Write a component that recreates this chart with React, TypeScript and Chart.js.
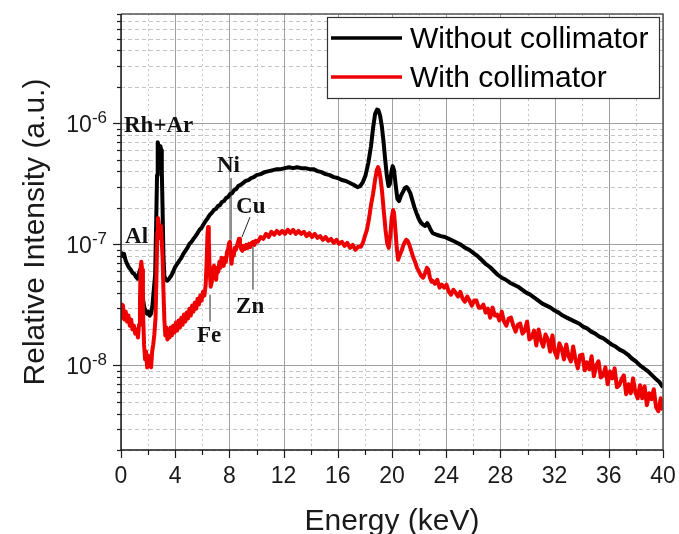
import React, { useEffect, useRef } from "react";
import { Chart, registerables } from "chart.js";

Chart.register(...registerables);

const SANS = "'Liberation Sans', Arial, Helvetica, sans-serif";
const SERIF = "'Liberation Serif', 'Times New Roman', serif";

const seriesNames = ["Without collimator", "With collimator"];
const seriesColors = ["#000000", "#ee0000"];
const xAxisTitle = "Energy (keV)";
const yAxisTitle = "Relative Intensity (a.u.)";

const blackEnergy = [
  0.0, 0.1, 0.22, 0.35, 0.48, 0.6, 0.72, 0.85, 0.97, 1.1,
  1.22, 1.32, 1.4, 1.47, 1.55, 1.63, 1.72, 1.82, 1.92, 2.02,
  2.12, 2.22, 2.32, 2.42, 2.52, 2.6, 2.66, 2.71, 2.76, 2.81,
  2.86, 2.91, 2.96, 3.01, 3.07, 3.13, 3.2, 3.3, 3.42, 3.55,
  3.7, 3.85, 4.0, 4.15, 4.3, 4.45, 4.6, 4.75, 4.9, 5.05,
  5.2, 5.35, 5.5, 5.65, 5.8, 5.95, 6.1, 6.25, 6.4, 6.55,
  6.7, 6.85, 7.0, 7.15, 7.3, 7.45, 7.6, 7.75, 7.9, 8.05,
  8.2, 8.35, 8.5, 8.65, 8.8, 9.0, 9.2, 9.4, 9.6, 9.8,
  10.0, 10.3, 10.6, 10.9, 11.2, 11.5, 11.8, 12.1, 12.4, 12.7,
  13.0, 13.3, 13.6, 13.9, 14.2, 14.5, 14.8, 15.1, 15.4, 15.7,
  16.0, 16.3, 16.6, 16.9, 17.2, 17.45, 17.65, 17.85, 18.05, 18.25,
  18.45, 18.6, 18.75, 18.9, 19.0, 19.12, 19.25, 19.38, 19.5, 19.62,
  19.74, 19.84, 19.95, 20.05, 20.15, 20.28, 20.4, 20.52, 20.65, 20.8,
  20.95, 21.08, 21.2, 21.35, 21.5, 21.65, 21.8, 21.95, 22.1, 22.3,
  22.45, 22.6, 22.72, 22.85, 23.0, 23.3, 23.6, 23.9, 24.2, 24.5,
  24.8, 25.1, 25.4, 25.7, 26.0, 26.3, 26.6, 26.9, 27.2, 27.5,
  27.8, 28.1, 28.4, 28.7, 29.0, 29.3, 29.6, 29.9, 30.2, 30.5,
  30.8, 31.1, 31.4, 31.7, 32.0, 32.3, 32.6, 32.9, 33.2, 33.5,
  33.8, 34.1, 34.4, 34.7, 35.0, 35.3, 35.6, 35.9, 36.2, 36.5,
  36.8, 37.1, 37.4, 37.7, 38.0, 38.3, 38.6, 38.9, 39.2, 39.5,
  39.75, 40.0,
];

const blackIntensity = [
  8.68e-8, 8.04e-8, 8.35e-8, 7.32e-8, 6.78e-8, 6.4e-8, 6.17e-8, 5.83e-8, 5.72e-8, 5.4e-8,
  5.2e-8, 5.72e-8, 6.17e-8, 5.5e-8, 4.22e-8, 3.49e-8, 3.0e-8, 2.84e-8, 2.68e-8, 2.78e-8,
  2.58e-8, 2.68e-8, 3.12e-8, 4.22e-8, 5.61e-8, 1.59e-7, 3.73e-7, 6.98e-7, 6.59e-7, 5.77e-7,
  5.45e-7, 6.47e-7, 6.0e-7, 4.1e-7, 1.92e-7, 8.19e-8, 5.5e-8, 5.1e-8, 5.0e-8, 5.2e-8,
  5.5e-8, 5.94e-8, 6.53e-8, 6.91e-8, 7.32e-8, 7.74e-8, 8.35e-8, 8.85e-8, 9.36e-8, 1.01e-7,
  1.05e-7, 1.11e-7, 1.17e-7, 1.24e-7, 1.32e-7, 1.37e-7, 1.47e-7, 1.56e-7, 1.65e-7, 1.75e-7,
  1.82e-7, 1.92e-7, 1.96e-7, 2.07e-7, 2.11e-7, 2.24e-7, 2.28e-7, 2.41e-7, 2.46e-7, 2.6e-7,
  2.65e-7, 2.81e-7, 2.86e-7, 3.03e-7, 3.09e-7, 3.21e-7, 3.34e-7, 3.4e-7, 3.53e-7, 3.59e-7,
  3.73e-7, 3.8e-7, 3.95e-7, 4.03e-7, 4.1e-7, 4.18e-7, 4.18e-7, 4.26e-7, 4.34e-7, 4.26e-7,
  4.34e-7, 4.26e-7, 4.26e-7, 4.18e-7, 4.18e-7, 4.03e-7, 3.95e-7, 3.8e-7, 3.73e-7, 3.59e-7,
  3.53e-7, 3.4e-7, 3.34e-7, 3.21e-7, 3.09e-7, 2.97e-7, 3.03e-7, 3.27e-7, 3.73e-7, 4.69e-7,
  6.47e-7, 9.1e-7, 1.19e-6, 1.3e-6, 1.28e-6, 1.16e-6, 9.45e-7, 6.98e-7, 4.96e-7, 3.66e-7,
  3.03e-7, 3.15e-7, 3.95e-7, 4.43e-7, 4.1e-7, 3.03e-7, 2.37e-7, 2.28e-7, 2.51e-7, 2.7e-7,
  2.92e-7, 2.97e-7, 2.86e-7, 2.65e-7, 2.32e-7, 2.03e-7, 1.82e-7, 1.65e-7, 1.53e-7, 1.45e-7,
  1.42e-7, 1.5e-7, 1.42e-7, 1.32e-7, 1.24e-7, 1.2e-7, 1.17e-7, 1.15e-7, 1.11e-7, 1.07e-7,
  1.03e-7, 9.9e-8, 9.36e-8, 9.01e-8, 8.51e-8, 8.04e-8, 7.46e-8, 6.91e-8, 6.53e-8, 6.05e-8,
  5.61e-8, 5.3e-8, 5.1e-8, 4.82e-8, 4.64e-8, 4.47e-8, 4.22e-8, 3.99e-8, 3.84e-8, 3.63e-8,
  3.43e-8, 3.24e-8, 3.12e-8, 3.0e-8, 2.84e-8, 2.73e-8, 2.58e-8, 2.48e-8, 2.39e-8, 2.3e-8,
  2.22e-8, 2.09e-8, 2.02e-8, 1.9e-8, 1.83e-8, 1.73e-8, 1.67e-8, 1.58e-8, 1.49e-8, 1.43e-8,
  1.35e-8, 1.3e-8, 1.23e-8, 1.14e-8, 1.08e-8, 1.0e-8, 9.45e-9, 8.93e-9, 8.27e-9, 7.67e-9,
  7.25e-9, 6.59e-9,
];

const redEnergy = [
  0.0, 0.07, 0.15, 0.25, 0.35, 0.45, 0.55, 0.65, 0.75, 0.85,
  0.95, 1.05, 1.15, 1.25, 1.33, 1.4, 1.45, 1.5, 1.56, 1.62,
  1.7, 1.78, 1.85, 1.93, 2.0, 2.08, 2.15, 2.22, 2.3, 2.38,
  2.46, 2.55, 2.62, 2.68, 2.73, 2.78, 2.84, 2.89, 2.95, 3.01,
  3.07, 3.13, 3.2, 3.27, 3.35, 3.42, 3.5, 3.58, 3.66, 3.75,
  3.85, 3.95, 4.05, 4.15, 4.25, 4.35, 4.45, 4.55, 4.65, 4.75,
  4.85, 4.95, 5.05, 5.15, 5.25, 5.35, 5.45, 5.55, 5.65, 5.75,
  5.85, 5.95, 6.05, 6.15, 6.25, 6.32, 6.38, 6.43, 6.48, 6.54,
  6.62, 6.7, 6.78, 6.86, 6.94, 7.02, 7.1, 7.18, 7.26, 7.34,
  7.42, 7.5, 7.58, 7.66, 7.74, 7.82, 7.9, 7.98, 8.04, 8.1,
  8.16, 8.24, 8.32, 8.4, 8.48, 8.56, 8.64, 8.71, 8.78, 8.86,
  8.95, 9.05, 9.15, 9.25, 9.35, 9.45, 9.55, 9.65, 9.75, 9.85,
  9.95, 10.1, 10.3, 10.5, 10.7, 10.9, 11.1, 11.3, 11.5, 11.7,
  11.9, 12.1, 12.3, 12.5, 12.7, 12.9, 13.1, 13.3, 13.5, 13.7,
  13.9, 14.1, 14.3, 14.5, 14.7, 14.9, 15.1, 15.3, 15.5, 15.7,
  15.9, 16.1, 16.3, 16.5, 16.7, 16.9, 17.1, 17.3, 17.5, 17.7,
  17.85, 18.0, 18.15, 18.3, 18.45, 18.6, 18.75, 18.88, 18.97, 19.05,
  19.15, 19.27, 19.4, 19.52, 19.64, 19.76, 19.88, 19.98, 20.08, 20.15,
  20.25, 20.35, 20.45, 20.55, 20.68, 20.8, 20.92, 21.05, 21.15, 21.28,
  21.4, 21.55, 21.7, 21.85, 22.0, 22.15, 22.3, 22.45, 22.58, 22.68,
  22.8, 22.92,
  23.0, 23.17, 23.34, 23.51, 23.68, 23.85, 24.02, 24.19, 24.36, 24.53,
  24.7, 24.87, 25.04, 25.21, 25.38, 25.55, 25.72, 25.89, 26.06, 26.23,
  26.4, 26.57, 26.74, 26.91, 27.08, 27.25, 27.42, 27.59, 27.76, 27.93,
  28.1, 28.27, 28.44, 28.61, 28.78, 28.95, 29.12, 29.29, 29.46, 29.63,
  29.8, 29.97, 30.14, 30.31, 30.48, 30.65, 30.82, 30.99, 31.16, 31.33,
  31.5, 31.67, 31.84, 32.01, 32.18, 32.35, 32.52, 32.69, 32.86, 33.03,
  33.2, 33.37, 33.54, 33.71, 33.88, 34.05, 34.22, 34.39, 34.56, 34.73,
  34.9, 35.07, 35.24, 35.41, 35.58, 35.75, 35.92, 36.09, 36.26, 36.43,
  36.6, 36.77, 36.94, 37.11, 37.28, 37.45, 37.62, 37.79, 37.96, 38.13,
  38.3, 38.47, 38.64, 38.81, 38.98, 39.15, 39.32, 39.49, 39.66, 39.83,
  40.0,
];

const redIntensity = [
  3.18e-8, 2.48e-8, 3.12e-8, 2.39e-8, 2.78e-8, 2.3e-8, 2.58e-8, 2.13e-8, 2.39e-8, 1.98e-8,
  2.13e-8, 1.83e-8, 1.98e-8, 1.7e-8, 2.17e-8, 3.49e-8, 6.4e-8, 7.18e-8, 6.17e-8, 2.89e-8,
  1.49e-8, 1.12e-8, 1.3e-8, 9.63e-9, 1.21e-8, 1.0e-8, 1.16e-8, 9.63e-9, 1.3e-8, 1.49e-8,
  1.8e-8, 2.48e-8, 5.61e-8, 1.27e-7, 1.65e-7, 1.53e-7, 1.13e-7, 1.32e-7, 1.42e-7, 1.05e-7,
  7.74e-8, 4.22e-8, 2.39e-8, 1.77e-8, 2.06e-8, 1.64e-8, 1.9e-8, 1.7e-8, 2.06e-8, 1.77e-8,
  2.13e-8, 1.87e-8, 2.26e-8, 1.94e-8, 2.35e-8, 2.06e-8, 2.48e-8, 2.17e-8, 2.63e-8, 2.3e-8,
  2.73e-8, 2.44e-8, 2.94e-8, 2.58e-8, 3.12e-8, 2.78e-8, 3.3e-8, 2.94e-8, 3.56e-8, 3.18e-8,
  3.77e-8, 3.43e-8, 4.06e-8, 3.77e-8, 4.64e-8, 7.18e-8, 1.2e-7, 1.39e-7, 1.09e-7, 6.17e-8,
  4.47e-8, 4.91e-8, 6.17e-8, 6.65e-8, 5.5e-8, 5.1e-8, 6.4e-8, 5.94e-8, 7.18e-8, 6.4e-8,
  7.74e-8, 6.91e-8, 6.65e-8, 7.74e-8, 7.18e-8, 8.68e-8, 9.01e-8, 1.03e-7, 1.05e-7, 8.04e-8,
  6.91e-8, 8.68e-8, 8.04e-8, 9.36e-8, 9.01e-8, 9.72e-8, 1.05e-7, 1.11e-7, 1.01e-7, 9.18e-8,
  8.85e-8, 9.72e-8, 9.18e-8, 9.9e-8, 9.36e-8, 1.01e-7, 9.54e-8, 1.03e-7, 1.05e-7, 9.9e-8,
  1.07e-7, 1.05e-7, 1.15e-7, 1.11e-7, 1.22e-7, 1.15e-7, 1.27e-7, 1.2e-7, 1.29e-7, 1.22e-7,
  1.29e-7, 1.22e-7, 1.32e-7, 1.24e-7, 1.32e-7, 1.22e-7, 1.29e-7, 1.22e-7, 1.27e-7, 1.17e-7,
  1.24e-7, 1.15e-7, 1.22e-7, 1.13e-7, 1.17e-7, 1.09e-7, 1.15e-7, 1.07e-7, 1.11e-7, 1.03e-7,
  1.09e-7, 1.01e-7, 1.05e-7, 9.72e-8, 1.03e-7, 9.36e-8, 9.9e-8, 9.01e-8, 9.54e-8, 9.54e-8,
  1.03e-7, 1.17e-7, 1.32e-7, 1.62e-7, 2.11e-7, 2.6e-7, 3.4e-7, 4.1e-7, 4.34e-7, 4.1e-7,
  3.53e-7, 2.7e-7, 1.85e-7, 1.32e-7, 1.03e-7, 9.36e-8, 1.2e-7, 1.65e-7, 1.92e-7, 1.82e-7,
  1.32e-7, 9.36e-8, 7.46e-8, 8.04e-8, 8.68e-8, 9.54e-8, 1.03e-7, 1.09e-7, 1.07e-7, 9.9e-8,
  9.01e-8, 7.89e-8, 7.18e-8, 6.4e-8, 5.94e-8, 5.5e-8, 5.3e-8, 5.83e-8, 6.4e-8, 6.17e-8,
  5.3e-8, 4.91e-8,
  5.0e-8, 4.73e-8, 5.1e-8, 4.39e-8, 4.64e-8, 4.39e-8, 4.64e-8, 4.06e-8, 3.84e-8, 4.22e-8,
  3.99e-8, 3.7e-8, 4.06e-8, 3.56e-8, 3.36e-8, 3.7e-8, 3.43e-8, 3.12e-8, 3.43e-8, 3.43e-8,
  3.0e-8, 3.0e-8, 3.18e-8, 2.73e-8, 2.94e-8, 2.48e-8, 3.0e-8, 2.58e-8, 2.63e-8, 2.35e-8,
  2.78e-8, 2.3e-8, 2.13e-8, 2.44e-8, 2.48e-8, 2.13e-8, 1.9e-8, 2.17e-8, 2.22e-8, 1.83e-8,
  1.94e-8, 2.3e-8, 1.64e-8, 1.7e-8, 1.94e-8, 1.46e-8, 1.98e-8, 1.61e-8, 1.43e-8, 1.8e-8,
  1.64e-8, 1.3e-8, 1.77e-8, 1.3e-8, 1.16e-8, 1.52e-8, 1.38e-8, 1.12e-8, 1.49e-8, 1.19e-8,
  1.08e-8, 1.43e-8, 1.12e-8, 9.45e-9, 1.21e-8, 1.23e-8, 9.1e-9, 1.06e-8, 9.27e-9, 1.19e-8,
  8.12e-9, 1.0e-8, 1.08e-8, 7.96e-9, 8.27e-9, 9.63e-9, 6.98e-9, 8.93e-9, 7.81e-9, 9.45e-9,
  6.59e-9, 6.85e-9, 7.67e-9, 8.27e-9, 5.77e-9, 6.98e-9, 5.88e-9, 7.81e-9, 6.0e-9, 5.35e-9,
  6.85e-9, 5.35e-9, 6.72e-9, 4.69e-9, 5.88e-9, 5.25e-9, 6.35e-9, 4.51e-9, 4.18e-9, 5.35e-9,
  4.26e-9,
];

const xTickValues = [0, 4, 8, 12, 16, 20, 24, 28, 32, 36, 40];
const xMinorValues = [2, 6, 10, 14, 18, 22, 26, 30, 34, 38];
const yMin = 2e-9;
const yMax = 8e-6;
const yDecadeValues = [1e-8, 1e-7, 1e-6];
const yDecadeExponents = ["-8", "-7", "-6"];
const yMinorValues = [
  2e-9, 3e-9, 4e-9, 5e-9, 6e-9, 7e-9, 8e-9, 9e-9,
  2e-8, 3e-8, 4e-8, 5e-8, 6e-8, 7e-8, 8e-8, 9e-8,
  2e-7, 3e-7, 4e-7, 5e-7, 6e-7, 7e-7, 8e-7, 9e-7,
  2e-6, 3e-6, 4e-6, 5e-6, 6e-6, 7e-6, 8e-6,
];

const peakLabels = ["Rh+Ar", "Al", "Ni", "Cu", "Zn", "Fe"];
const peakLabelEnergy = [0.22, 0.3, 7.08, 8.49, 8.49, 5.61];
const peakLabelIntensity = [8.43e-7, 1.03e-7, 3.95e-7, 1.82e-7, 2.73e-8, 1.55e-8];

const leaderStartEnergy = [8.12, 9.52, 9.74, 6.57];
const leaderStartIntensity = [3.53e-7, 1.68e-7, 9.54e-8, 3.84e-8];
const leaderEndEnergy = [8.12, 8.93, 9.74, 6.57];
const leaderEndIntensity = [1.09e-7, 1.15e-7, 4.22e-8, 2.3e-8];

const decorPlugin = {
  id: "decor",
  beforeDatasetsDraw(chart: any) {
    const { ctx, chartArea: a } = chart;
    const xs = chart.scales.x;
    const ys = chart.scales.y;
    ctx.save();
    ctx.lineWidth = 1;
    ctx.strokeStyle = "#c4c4c4";
    ctx.setLineDash([4, 3]);
    yMinorValues.forEach((v) => {
      const y = Math.round(ys.getPixelForValue(v)) + 0.5;
      ctx.beginPath();
      ctx.moveTo(a.left, y);
      ctx.lineTo(a.right, y);
      ctx.stroke();
    });
    ctx.strokeStyle = "#c6c6c6";
    ctx.setLineDash([2, 3]);
    xMinorValues.forEach((v) => {
      const x = Math.round(xs.getPixelForValue(v)) + 0.5;
      ctx.beginPath();
      ctx.moveTo(x, a.top);
      ctx.lineTo(x, a.bottom);
      ctx.stroke();
    });
    ctx.setLineDash([]);
    ctx.strokeStyle = "#a0a0a0";
    xTickValues.forEach((v) => {
      const x = Math.round(xs.getPixelForValue(v)) + 0.5;
      ctx.beginPath();
      ctx.moveTo(x, a.top);
      ctx.lineTo(x, a.bottom);
      ctx.stroke();
    });
    yDecadeValues.forEach((v) => {
      const y = Math.round(ys.getPixelForValue(v)) + 0.5;
      ctx.beginPath();
      ctx.moveTo(a.left, y);
      ctx.lineTo(a.right, y);
      ctx.stroke();
    });
    ctx.restore();
  },
  afterDatasetsDraw(chart: any) {
    const { ctx, chartArea: a } = chart;
    const xs = chart.scales.x;
    const ys = chart.scales.y;
    const L = Math.round(a.left);
    const R = Math.round(a.right);
    const T = Math.round(a.top);
    const B = Math.round(a.bottom);
    ctx.save();
    ctx.lineWidth = 1.5;
    ctx.strokeStyle = "#555555";
    ctx.beginPath();
    ctx.moveTo(L, T);
    ctx.lineTo(R, T);
    ctx.lineTo(R, B);
    ctx.stroke();
    ctx.strokeStyle = "#1a1a1a";
    ctx.beginPath();
    ctx.moveTo(L, T);
    ctx.lineTo(L, B);
    ctx.lineTo(R, B);
    ctx.stroke();
    ctx.lineWidth = 1.2;
    xTickValues.forEach((v) => {
      const x = Math.round(xs.getPixelForValue(v)) + 0.5;
      ctx.beginPath();
      ctx.moveTo(x, B);
      ctx.lineTo(x, B + 8);
      ctx.stroke();
    });
    xMinorValues.forEach((v) => {
      const x = Math.round(xs.getPixelForValue(v)) + 0.5;
      ctx.beginPath();
      ctx.moveTo(x, B);
      ctx.lineTo(x, B + 5);
      ctx.stroke();
    });
    yDecadeValues.forEach((v) => {
      const y = Math.round(ys.getPixelForValue(v)) + 0.5;
      ctx.beginPath();
      ctx.moveTo(L - 8, y);
      ctx.lineTo(L, y);
      ctx.stroke();
    });
    yMinorValues.forEach((v) => {
      const y = Math.round(ys.getPixelForValue(v)) + 0.5;
      ctx.beginPath();
      ctx.moveTo(L - 4, y);
      ctx.lineTo(L, y);
      ctx.stroke();
    });
    ctx.fillStyle = "#1a1a1a";
    ctx.textBaseline = "alphabetic";
    ctx.textAlign = "right";
    yDecadeValues.forEach((v, i) => {
      const y = ys.getPixelForValue(v);
      const right = L - 14;
      ctx.font = `17px ${SANS}`;
      const w = ctx.measureText(yDecadeExponents[i]).width;
      ctx.fillText(yDecadeExponents[i], right, y - 0.5);
      ctx.font = `23px ${SANS}`;
      ctx.fillText("10", right - w, y + 9);
    });
    ctx.strokeStyle = "#222222";
    ctx.lineWidth = 1;
    leaderStartEnergy.forEach((e, i) => {
      ctx.beginPath();
      ctx.moveTo(xs.getPixelForValue(e), ys.getPixelForValue(leaderStartIntensity[i]));
      ctx.lineTo(xs.getPixelForValue(leaderEndEnergy[i]), ys.getPixelForValue(leaderEndIntensity[i]));
      ctx.stroke();
    });
    ctx.fillStyle = "#111111";
    ctx.textAlign = "left";
    ctx.font = `bold 23px ${SERIF}`;
    peakLabels.forEach((t, i) => {
      ctx.fillText(t, xs.getPixelForValue(peakLabelEnergy[i]), ys.getPixelForValue(peakLabelIntensity[i]));
    });
    const lx = R - 336;
    const ly = T + 3;
    const lw = 332;
    const lh = 81;
    ctx.fillStyle = "#ffffff";
    ctx.fillRect(lx, ly, lw, lh);
    ctx.strokeStyle = "#333333";
    ctx.lineWidth = 1.2;
    ctx.strokeRect(lx + 0.5, ly + 0.5, lw, lh);
    ctx.font = `30px ${SANS}`;
    seriesNames.forEach((name, i) => {
      const cy = ly + 21 + i * 39;
      ctx.strokeStyle = seriesColors[i];
      ctx.lineWidth = 3.5;
      ctx.beginPath();
      ctx.moveTo(lx + 4, cy);
      ctx.lineTo(lx + 75, cy);
      ctx.stroke();
      ctx.fillStyle = "#000000";
      ctx.fillText(name, lx + 83, cy + 10);
    });
    ctx.restore();
  },
};

export default function App() {
  const ref = useRef<HTMLCanvasElement>(null);
  useEffect(() => {
    const canvas = ref.current;
    if (!canvas) return;
    const chart = new Chart(canvas, {
      type: "line",
      data: {
        datasets: [
          {
            label: seriesNames[0],
            data: blackEnergy.map((e, i) => ({ x: e, y: blackIntensity[i] })),
            borderColor: seriesColors[0],
            borderWidth: 4,
            pointRadius: 0,
            tension: 0,
            borderJoinStyle: "round",
            order: 1,
          },
          {
            label: seriesNames[1],
            data: redEnergy.map((e, i) => ({ x: e, y: redIntensity[i] })),
            borderColor: seriesColors[1],
            borderWidth: 4,
            pointRadius: 0,
            tension: 0,
            borderJoinStyle: "round",
            order: 0,
          },
        ],
      },
      options: {
        responsive: false,
        devicePixelRatio: 1,
        animation: false,
        events: [],
        layout: { padding: { left: 0, top: 14, right: 16, bottom: 0 } },
        plugins: { legend: { display: false }, tooltip: { enabled: false } },
        scales: {
          x: {
            type: "linear",
            min: 0,
            max: 40,
            afterBuildTicks: (s: any) => {
              s.ticks = xTickValues.map((v) => ({ value: v }));
            },
            afterFit: (s: any) => {
              s.height = 84;
              s.paddingLeft = 0;
              s.paddingRight = 0;
            },
            grid: { display: false, drawTicks: false },
            border: { display: false },
            ticks: {
              autoSkip: false,
              maxRotation: 0,
              padding: 13,
              color: "#1a1a1a",
              font: { family: SANS, size: 23 },
              callback: (v: any) => String(v),
            },
            title: {
              display: true,
              text: xAxisTitle,
              color: "#1a1a1a",
              font: { family: SANS, size: 30 },
              padding: { top: 0, bottom: -6 },
            },
          },
          y: {
            type: "logarithmic",
            min: yMin,
            max: yMax,
            afterBuildTicks: (s: any) => {
              s.ticks = [yMin, ...yMinorValues.slice(1, 8), ...yDecadeValues, yMax].map((v) => ({ value: v }));
            },
            afterFit: (s: any) => {
              s.width = 121;
              s.paddingTop = 0;
              s.paddingBottom = 0;
            },
            grid: { display: false, drawTicks: false },
            border: { display: false },
            ticks: { display: false },
            title: {
              display: true,
              text: yAxisTitle,
              color: "#1a1a1a",
              font: { family: SANS, size: 30 },
              padding: { top: 18, bottom: 0 },
            },
          },
        },
      },
      plugins: [decorPlugin],
    } as any);
    return () => chart.destroy();
  }, []);
  return (
    <div style={{ position: "absolute", left: 0, top: 0, width: 679, height: 534, background: "#ffffff" }}>
      <canvas ref={ref} width={679} height={534} style={{ display: "block", width: 679, height: 534 }} />
    </div>
  );
}
